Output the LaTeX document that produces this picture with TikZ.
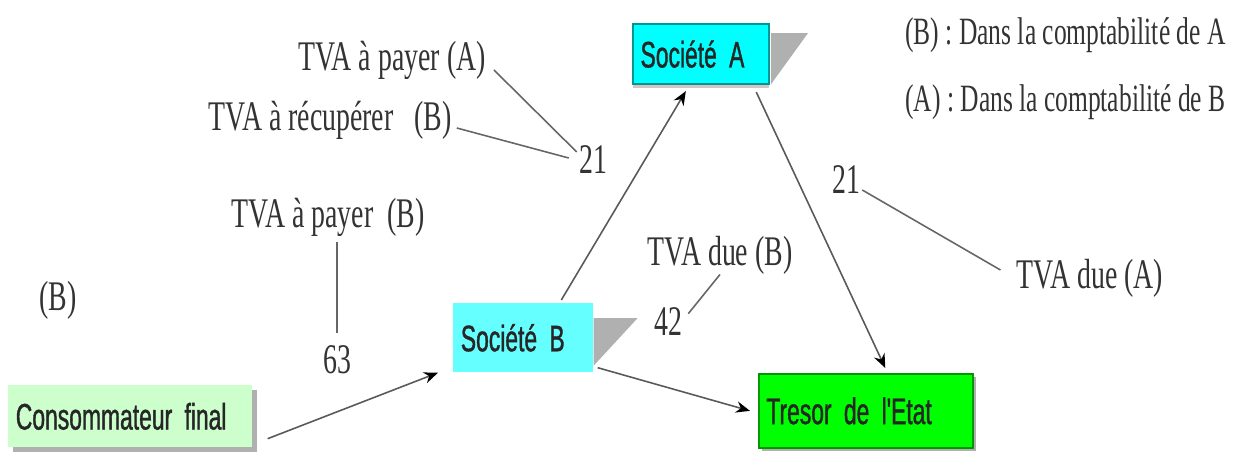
\documentclass[tikz,border=0pt]{standalone}
\usepackage{fontspec}
\usepackage{xcolor}
\usepackage{tikz}
\usetikzlibrary{ arrows.meta, calc, shadows }
\newfontfamily\etroit[FakeStretch=0.66]{Liberation Serif}
\newfontfamily\etroitsans[FakeStretch=0.62,FakeBold=1]{Liberation Sans}
\newcommand\policeboite{\etroitsans\fontsize{21}{24}\selectfont}
\definecolor{cyanA}{RGB}{0,255,255}
\definecolor{cyanB}{RGB}{102,255,255}
\definecolor{bordA}{RGB}{0,150,150}
\definecolor{vertT}{RGB}{0,255,0}
\definecolor{bordT}{RGB}{0,150,0}
\definecolor{vertC}{RGB}{204,255,204}
\definecolor{ombre}{RGB}{176,176,176}
\definecolor{ombreA}{RGB}{216,196,196}
\tikzset{
>={Stealth[length=8pt, width=6.5pt, color=black]}, % pointes pleines
etiq/.style={inner sep=0pt, text=black!80, font=\etroit\fontsize{24}{28}\selectfont}, % textes libres
legende/.style={etiq, anchor=west, font=\etroit\fontsize{22}{26}\selectfont},
boite/.style={anchor=north west, inner xsep=0.15cm, inner ysep=0pt, align=left, text=black!85,
  font=\policeboite}, % les acteurs
trait/.style={draw=black!60, line width=0.9pt},
fleche/.style={->, draw=black!65, line width=0.9pt},
}

\begin{document}
\begin{tikzpicture}[x=0.02cm, y=-0.02cm]% 1 unite = 1 pixel
  \useasboundingbox (0,0) rectangle (1241,457);

  % acteurs
  \node[boite, fill=cyanA, draw=bordA, line width=1.2pt, minimum width=2.72cm, minimum height=1.2cm,
    text width=2.42cm, drop shadow={fill=ombreA, opacity=1, shadow xshift=0cm, shadow yshift=-0.08cm}] (sa) at (632,23) {Société A};
  \node[boite, fill=cyanB, minimum width=2.8cm, minimum height=1.38cm, text width=2.5cm] (sb) at (453,303) {Société B};
  \node[boite, fill=vertT, draw=bordT, line width=1pt, minimum width=4.28cm, minimum height=1.48cm,
    text width=3.98cm, drop shadow={fill=ombre, opacity=1, shadow xshift=0.06cm, shadow yshift=-0.06cm}] (tr) at (758,373) {Tresor de l'Etat};
  \node[boite, fill=vertC, minimum width=4.88cm, minimum height=1.24cm, text width=4.58cm,
    drop shadow={fill=ombre, opacity=1, shadow xshift=0.1cm, shadow yshift=-0.1cm}] (conso) at (8,385) {Consommateur final};

  % ombres en biseau
  \fill[ombre] ($(sa.north east)+(1,10)$) -- ++(37,0) -- ($(sa.south east)+(1,-1)$) -- cycle;
  \fill[ombre] ($(sb.north east)+(0,15)$) -- ++(44,0) -- ($(sb.south east)+(0,-7)$) -- cycle;

  % textes
  \node[etiq] (payA) at (392,60) {TVA à payer (A)};
  \node[etiq] (recB) at (330,120) {TVA à récupérer~~~(B)};
  \node[etiq] (n21a) at (593,160) {21};
  \node[etiq] (payB) at (328,217) {TVA à payer~~(B)};
  \node[etiq] (n63) at (337,360) {63};
  \node[etiq] (memB) at (58,300) {(B)};
  \node[etiq] (dueB) at (720,255) {TVA due (B)};
  \node[etiq] (n42) at (668,322) {42};
  \node[etiq] (n21b) at (846,180) {21};
  \node[etiq] (dueA) at (1090,278) {TVA due (A)};
  \node[legende] (legA) at (905,35) {(B) : Dans la comptabilité de A};
  \node[legende] (legB) at (905,102) {(A) : Dans la comptabilité de B};

  % renvois
  \draw[trait] ($(payA.east)+(8,10)$) -- ($(n21a.west)+(-2,-8)$);
  \draw[trait] ($(recB.east)+(5,8)$) -- ($(n21a.west)+(-10,-2)$);
  \draw[trait, shorten <=0.1cm, shorten >=0.25cm] (payB.south -| n63) -- (n63.north);
  \draw[trait] (dueB.south) -- ($(n42.north east)+(6,6)$);
  \draw[trait] ($(n21b.east)+(2,10)$) -- ($(dueA.west)+(-16,-8)$);

  % flux de TVA
  \draw[fleche] ($(conso.south east)+(15,-9)$) -- ($(sb.south west)+(-15,0)$);
  \draw[fleche] ($(sb.north west)!0.77!(sb.north east)+(0,-3)$) -- ($(sa.south west)!0.39!(sa.south east)+(0,6)$);
  \draw[fleche] ($(sa.south west)!0.9!(sa.south east)+(0,7)$) -- ($(tr.north west)!0.59!(tr.north east)+(0,-5)$);
  \draw[fleche] ($(sb.south east)+(4,-5)$) -- ($(tr.west)+(-8,0)$);
\end{tikzpicture}
\end{document}
